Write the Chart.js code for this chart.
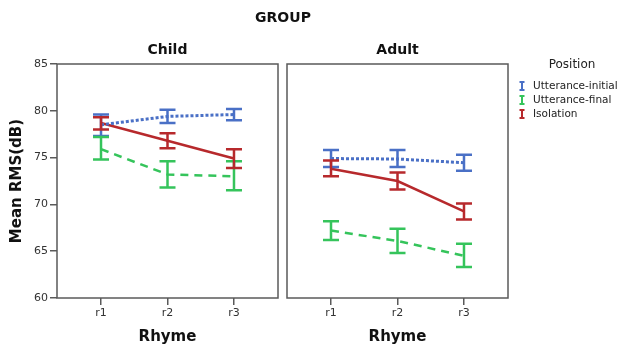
<!DOCTYPE html>
<html>
<head>
<meta charset="utf-8">
<script src="https://cdn.jsdelivr.net/npm/chart.js@4/dist/chart.umd.min.js"></script>
<style>
  body { margin: 0; background: #fff; }
  .wrap { position: relative; width: 626px; height: 345px; }
  canvas { position: absolute; left: 0; top: 0; }
</style>
</head>
<body>
<div class="wrap">
  <canvas id="child" width="626" height="345"></canvas>
  <canvas id="adult" width="626" height="345"></canvas>
</div>
<script>
const categories = ["r1", "r2", "r3"];
const groups = ["Child", "Adult"];
const seriesNames = ["Utterance-initial", "Utterance-final", "Isolation"];
const yTicks = [60, 65, 70, 75, 80, 85];

// means and 95% CI (low, high) per rhyme
const childInitial = [78.5, 79.4, 79.6];
const childInitialCI = [[77.3, 79.6], [78.7, 80.1], [79.0, 80.2]];
const childFinal = [75.9, 73.2, 73.0];
const childFinalCI = [[74.8, 77.2], [71.8, 74.6], [71.5, 74.6]];
const childIsolation = [78.7, 76.8, 74.9];
const childIsolationCI = [[78.0, 79.3], [76.0, 77.6], [73.9, 75.9]];

const adultInitial = [74.9, 74.85, 74.45];
const adultInitialCI = [[74.0, 75.8], [74.0, 75.8], [73.6, 75.3]];
const adultFinal = [67.2, 66.1, 64.5];
const adultFinalCI = [[66.2, 68.2], [64.8, 67.4], [63.3, 65.8]];
const adultIsolation = [73.8, 72.5, 69.25];
const adultIsolationCI = [[73.0, 74.7], [71.6, 73.4], [68.4, 70.1]];

const colors = ["#4a70c6", "#35c45b", "#b7292c"];
const dashes = [[3, 2], [8, 6], []];
const widths = [3, 2.5, 2.5];
const FONT = "'DejaVu Sans', sans-serif";
const FRAME = "#5a5a5a";

function makeDatasets(means, cis) {
  return means.map((m, s) => ({
    label: seriesNames[s],
    data: m.map((v, i) => ({ x: i + 1, y: v })),
    ci: cis[s],
    borderColor: colors[s],
    borderDash: dashes[s],
    borderWidth: widths[s],
    pointRadius: 0,
    fill: false,
    tension: 0
  }));
}

const errorBars = {
  id: "errorBars",
  afterDatasetsDraw(chart) {
    const { ctx, scales } = chart;
    ctx.save();
    ctx.setLineDash([]);
    ctx.lineWidth = 2.5;
    chart.data.datasets.forEach(ds => {
      ctx.strokeStyle = ds.borderColor;
      ds.data.forEach((p, i) => {
        const x = scales.x.getPixelForValue(p.x);
        const y1 = scales.y.getPixelForValue(ds.ci[i][0]);
        const y2 = scales.y.getPixelForValue(ds.ci[i][1]);
        ctx.beginPath();
        ctx.moveTo(x, y1); ctx.lineTo(x, y2);
        ctx.moveTo(x - 8, y1); ctx.lineTo(x + 8, y1);
        ctx.moveTo(x - 8, y2); ctx.lineTo(x + 8, y2);
        ctx.stroke();
      });
    });
    ctx.restore();
  }
};

const frame = {
  id: "frame",
  beforeDatasetsDraw(chart, args, opts) {
    const { ctx, chartArea: a } = chart;
    ctx.save();
    ctx.strokeStyle = FRAME;
    ctx.lineWidth = 1.5;
    ctx.strokeRect(a.left, a.top, a.right - a.left, a.bottom - a.top);
    ctx.restore();
  },
  afterDraw(chart, args, opts) {
    const { ctx, chartArea: a } = chart;
    ctx.save();
    ctx.fillStyle = "#111";
    ctx.textAlign = "center";
    ctx.textBaseline = "middle";
    ctx.font = "bold 14px " + FONT;
    ctx.fillText(opts.panel, (a.left + a.right) / 2, 50);
    if (opts.group) ctx.fillText("GROUP", 283, 18);
    if (opts.legend) {
      ctx.font = "12px " + FONT;
      ctx.fillStyle = "#222";
      ctx.fillText("Position", 572, 65);
      ctx.font = "10.5px " + FONT;
      ctx.textAlign = "left";
      chart.data.datasets.forEach((ds, i) => {
        const y = 86 + i * 14;
        ctx.strokeStyle = ds.borderColor;
        ctx.lineWidth = 2;
        ctx.beginPath();
        ctx.moveTo(522, y - 4); ctx.lineTo(522, y + 4);
        ctx.moveTo(519.5, y - 4); ctx.lineTo(524.5, y - 4);
        ctx.moveTo(519.5, y + 4); ctx.lineTo(524.5, y + 4);
        ctx.stroke();
        ctx.fillStyle = "#222";
        ctx.fillText(ds.label, 533, y);
      });
    }
    ctx.restore();
  }
};

function makeOptions(panelIdx) {
  const isLeft = panelIdx === 0;
  return {
    responsive: false,
    animation: false,
    events: [],
    layout: {
      padding: isLeft
        ? { top: 64, left: 0, right: 626 - 278, bottom: 0 }
        : { top: 64, left: 287, right: 626 - 508, bottom: 0 }
    },
    plugins: {
      legend: { display: false },
      tooltip: { enabled: false },
      frame: { panel: groups[panelIdx], group: isLeft, legend: !isLeft }
    },
    scales: {
      x: {
        type: "linear",
        min: 0.338,
        max: 3.662,
        afterBuildTicks: s => { s.ticks = categories.map((c, i) => ({ value: i + 1 })); },
        afterFit: s => { s.height = 47; },
        ticks: {
          callback: v => categories[v - 1],
          autoSkip: false,
          maxRotation: 0,
          padding: 2,
          color: "#333",
          font: { family: FONT, size: 11 }
        },
        grid: { drawOnChartArea: false, drawTicks: true, tickLength: 7, color: FRAME, lineWidth: 1.5 },
        border: { display: false },
        title: {
          display: true,
          text: "Rhyme",
          color: "#111",
          font: { family: FONT, size: 15, weight: "bold", lineHeight: 1 },
          padding: { top: 0, bottom: 0 }
        }
      },
      y: {
        display: isLeft,
        min: 60,
        max: 85,
        afterBuildTicks: s => { s.ticks = yTicks.map(v => ({ value: v })); },
        afterFit: s => { s.width = isLeft ? 57 : 0; },
        ticks: {
          color: "#333",
          padding: 2,
          font: { family: FONT, size: 11 }
        },
        grid: { drawOnChartArea: false, drawTicks: true, tickLength: 7, color: FRAME, lineWidth: 1.5 },
        border: { display: false },
        title: {
          display: true,
          text: "Mean RMS(dB)",
          color: "#111",
          font: { family: FONT, size: 15, weight: "bold", lineHeight: 1 },
          padding: { top: 9.5, bottom: 0 }
        }
      }
    }
  };
}

new Chart(document.getElementById("child"), {
  type: "line",
  data: {
    datasets: makeDatasets(
      [childInitial, childFinal, childIsolation],
      [childInitialCI, childFinalCI, childIsolationCI])
  },
  options: makeOptions(0),
  plugins: [frame, errorBars]
});

new Chart(document.getElementById("adult"), {
  type: "line",
  data: {
    datasets: makeDatasets(
      [adultInitial, adultFinal, adultIsolation],
      [adultInitialCI, adultFinalCI, adultIsolationCI])
  },
  options: makeOptions(1),
  plugins: [frame, errorBars]
});
</script>
</body>
</html>
